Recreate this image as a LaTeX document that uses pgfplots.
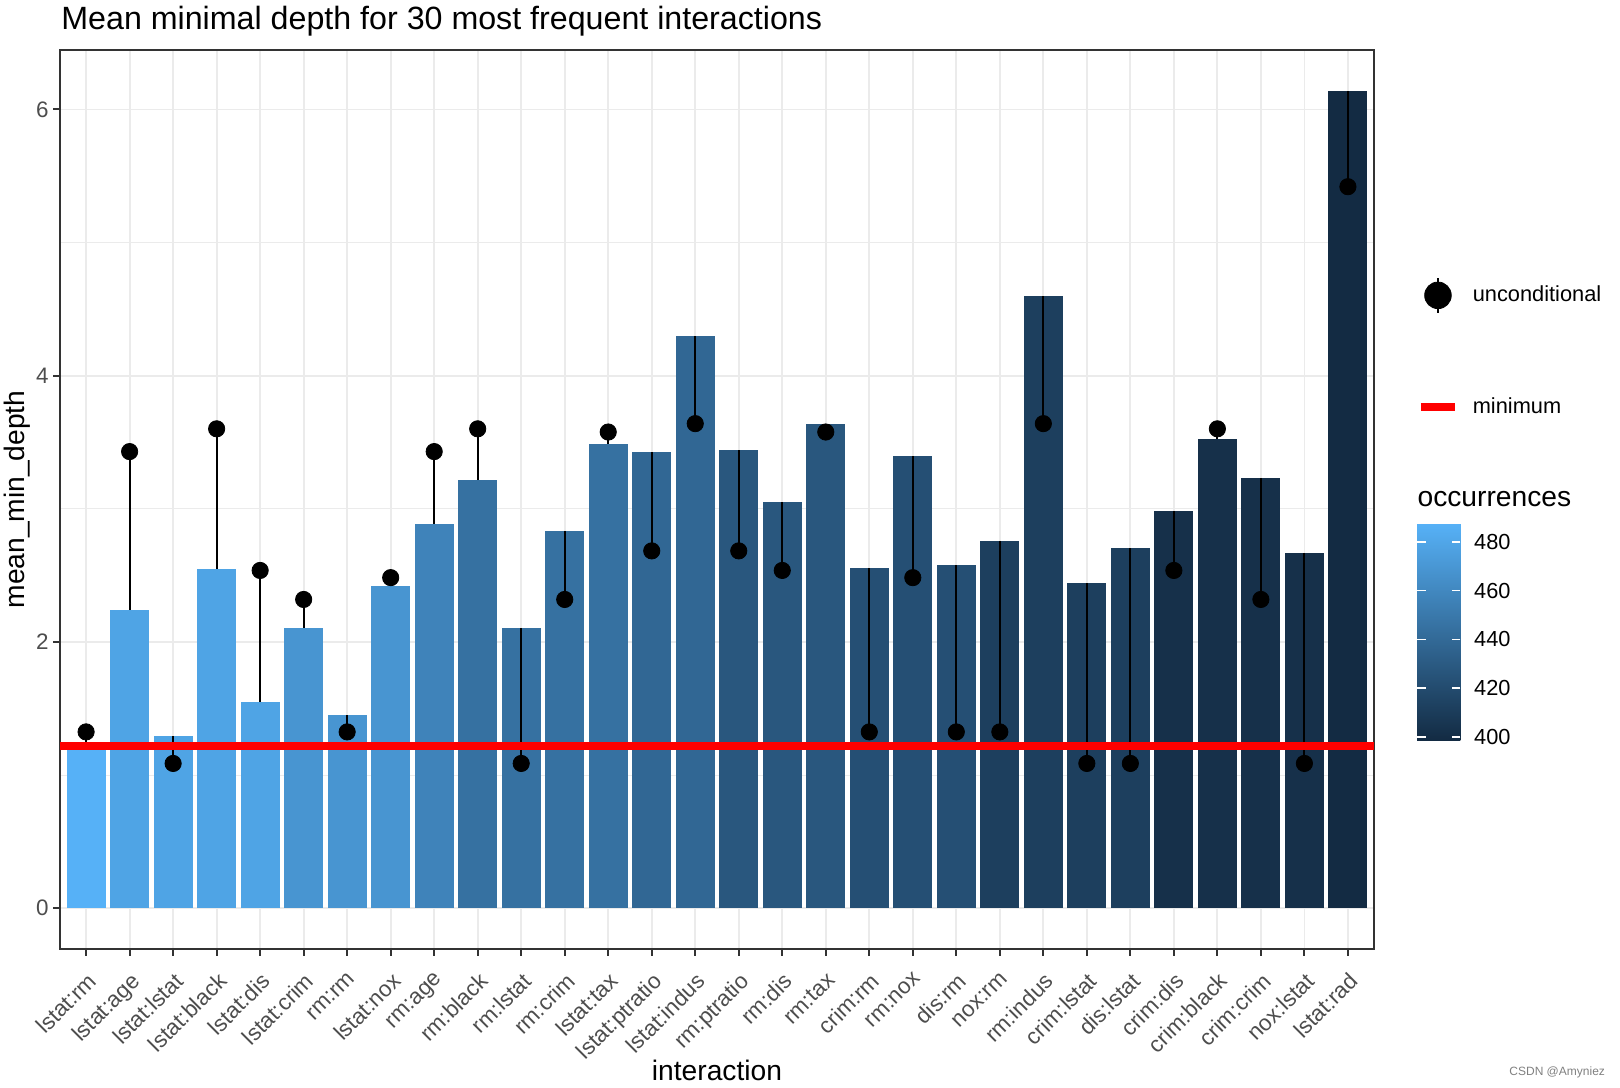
\documentclass[border=0pt]{standalone}
\usepackage{pgfplots}
\usepackage{pgfplotstable}
\pgfplotsset{compat=1.18}
\usepackage{fontspec}
\setmainfont{Liberation Sans}
\definecolor{glo}{RGB}{19,43,67}
\definecolor{ghi}{RGB}{86,177,247}
\definecolor{grid92}{RGB}{235,235,235}
\definecolor{gray20}{RGB}{51,51,51}
\definecolor{gray30}{RGB}{77,77,77}

\pgfplotstableread{
x depth uncond occ
0 1.217 1.324 487
1 2.242 3.430 478
2 1.292 1.087 478
3 2.545 3.601 478
4 1.551 2.537 478
5 2.102 2.319 469
6 1.450 1.324 469
7 2.420 2.483 469
8 2.886 3.430 457
9 3.220 3.601 445
10 2.102 1.087 445
11 2.832 2.319 445
12 3.484 3.577 445
13 3.430 2.684 439
14 4.300 3.640 439
15 3.445 2.684 428
16 3.049 2.537 428
17 3.640 3.577 428
18 2.552 1.324 423
19 3.399 2.483 423
20 2.576 1.324 423
21 2.762 1.324 412
22 4.602 3.640 412
23 2.444 1.087 412
24 2.708 1.087 412
25 2.980 2.537 402
26 3.523 3.601 402
27 3.228 2.319 402
28 2.669 1.087 402
29 6.140 5.420 399
}\data

\begin{document}
\begin{tikzpicture}
\useasboundingbox (-30pt,-69pt) rectangle (780pt,474.5pt);
\begin{axis}[
  scale only axis, width=657pt, height=449.5pt,
  xmin=-0.6, xmax=29.6, ymin=-0.307, ymax=6.447,
  enlargelimits=false,
  xtick={0,...,29},
  xticklabels={lstat:rm,lstat:age,lstat:lstat,lstat:black,lstat:dis,lstat:crim,rm:rm,lstat:nox,rm:age,rm:black,rm:lstat,rm:crim,lstat:tax,lstat:ptratio,lstat:indus,rm:ptratio,rm:dis,rm:tax,crim:rm,rm:nox,dis:rm,nox:rm,rm:indus,crim:lstat,dis:lstat,crim:dis,crim:black,crim:crim,nox:lstat,lstat:rad},
  ytick={0,2,4,6}, minor ytick={1,3,5},
  xmajorgrids, ymajorgrids, yminorgrids,
  major grid style={draw=grid92, line width=0.9pt},
  minor grid style={draw=grid92, line width=0.45pt},
  axis line style={draw=gray20, line width=1pt},
  tick align=outside, tick pos=left,
  major tick length=3.4pt, minor tick length=0pt,
  tick style={draw=gray20, line width=1pt},
  /pgf/number format/assume math mode=true,
  tick label style={font=\fontsize{11.2}{13.4}\selectfont, text=gray30},
  xticklabel style={yshift=-7.5pt, rotate=45, anchor=north east, inner sep=0pt},
  yticklabel style={anchor=east, inner sep=0pt, xshift=-2.15pt},
  xlabel={interaction}, ylabel={mean\_min\_depth},
  label style={font=\fontsize{14.1}{17}\selectfont, text=black, inner sep=0pt},
  xlabel style={at={(axis description cs:0.5,-0.14572)}, anchor=base},
  ylabel style={at={(axis description cs:-0.02664,0.5)}, anchor=base},
  title={Mean minimal depth for 30 most frequent interactions},
  title style={at={(axis description cs:0.00076,1.02225)}, anchor=base west, yshift=-6pt, inner sep=0pt, font=\fontsize{16.1}{19}\selectfont},
  colorbar,
  colormap={gg}{rgb255=(19,43,67) rgb255=(86,177,247)},
  point meta min=398.9, point meta max=487.2,
  colorbar/width=21.65pt,
  colorbar style={
    at={(parent axis.south east)}, anchor=south west,
    xshift=13.05pt, yshift=104.5pt,
    scale only axis, width=21.65pt, height=108pt,
    ytick={400,420,440,460,480},
    ytick pos=both, yticklabel pos=right,
    tick align=inside, major tick length=4.2pt,
    tick style={draw=white, line width=0.9pt},
    axis line style={draw=none},
    /pgf/number format/assume math mode=true,
    yticklabel style={font=\fontsize{10.9}{13}\selectfont, text=black, inner sep=0pt, anchor=west, xshift=6.65pt},
    title={occurrences},
    title style={at={(0,1)}, anchor=base west, yshift=2.65pt, inner sep=0pt, font=\fontsize{14.1}{17}\selectfont},
  },
  legend style={at={(1,1)}, anchor=north west, xshift=21.3pt, yshift=-94.8pt, draw=none, fill=none, inner sep=0pt, outer sep=0pt, font=\fontsize{10.9}{13}\selectfont, column sep=6.75pt, row sep=0pt, nodes={inner sep=0pt}},
  legend cell align=left,
]
\pgfplotsforeachungrouped \i in {0,...,29}{%
  \pgfplotstablegetelem{\i}{occ}\of\data
  \pgfmathtruncatemacro\mixpct{round(100*(\pgfplotsretval-398.9)/88.3)}%
  \edef\temp{\noexpand\addplot[ybar, bar shift=0pt, bar width=0.9, draw=none, fill={ghi!\mixpct!glo}, restrict x to domain=\i:\i, forget plot] table[x=x, y=depth] {\noexpand\data};}%
  \temp
}
\addplot[only marks, mark=*, mark size=4.07pt, mark options={draw=black, fill=black}, black,
  point meta=\thisrow{occ},
  legend image code/.code={\draw[black, line width=1pt] (8.75pt,-8.75pt) -- (8.75pt,8.75pt); \fill[black] (8.75pt,0pt) circle[radius=6.65pt]; \path[draw=none, fill=none] (0pt,-27.875pt) rectangle (17.5pt,27.875pt);},
  error bars/.cd, y dir=both, y explicit, error mark=none, error bar style={line width=1pt, black}]
  table[x=x, y=uncond, y error plus expr={max(\thisrow{depth}-\thisrow{uncond},0)}, y error minus expr={max(\thisrow{uncond}-\thisrow{depth},0)}] {\data};
\addlegendentry{unconditional}
\addplot[red, line width=4.2pt,
  legend image code/.code={\draw[red, line width=4.2pt] (0.175pt,0pt) -- (17.325pt,0pt); \path[draw=none, fill=none] (0pt,-27.875pt) rectangle (17.5pt,27.875pt);}]
  coordinates {(-0.6,1.217) (29.6,1.217)};
\addlegendentry{minimum}
\end{axis}
\node[anchor=base east, font=\fontsize{6}{7}\selectfont, text=gray] at (776pt,-63pt) {CSDN @Amyniez};
\end{tikzpicture}
\end{document}
